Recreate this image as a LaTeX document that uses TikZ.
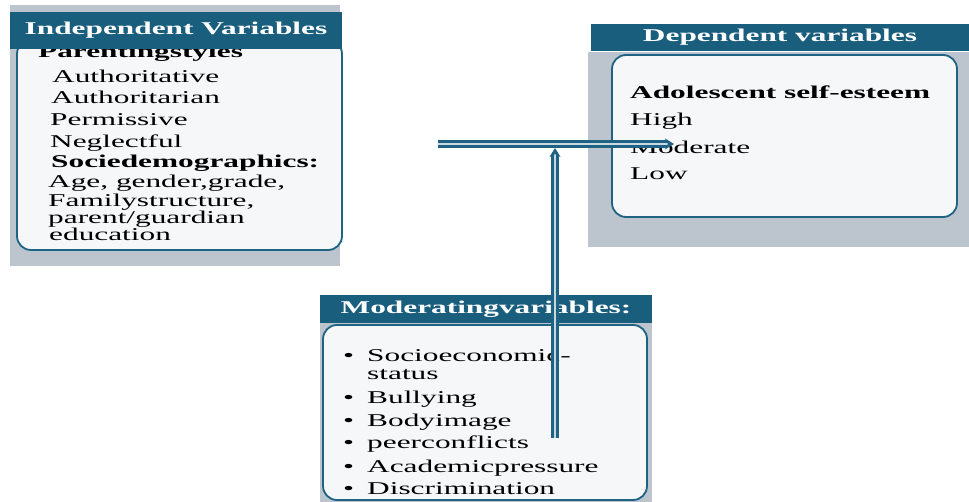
\documentclass[tikz,border=0pt]{standalone}
\usepackage{fontspec}
\setmainfont{Liberation Serif}[FakeStretch=1.74]
\usepackage{xcolor}
\usepackage{tikz}
\usetikzlibrary{arrows.meta}

\definecolor{hdrblue}{HTML}{1A5E7E}
\definecolor{lineblue}{HTML}{1E6384}
\definecolor{panelgrey}{HTML}{BCC4CD}
\definecolor{boxfill}{HTML}{F6F7F9}

\begin{document}
\begin{tikzpicture}[x=1pt, y=-1pt,
    panel/.style={fill=panelgrey},
    varbox/.style={draw=lineblue, line width=1.8pt, fill=boxfill, rounded corners=14pt},
    hdr/.style={fill=hdrblue, text=white, inner sep=0pt, font=\fontsize{18}{22}\selectfont\bfseries},
    item/.style={anchor=base west, inner sep=0pt, font=\fontsize{18}{22}\selectfont},
    link/.style={draw=lineblue, line width=2.8pt, double=white!75!lineblue, double distance=1.8pt,
        -{Stealth[length=9pt, width=11pt]}}]
    \useasboundingbox (0,0) rectangle (969,502);

    % Independent variables
    \fill[panel] (10,5) rectangle (340,266);
    \draw[varbox] (17,40) rectangle (342,250);
    \node[item, font=\fontsize{18}{22}\selectfont\bfseries] (parenting) at (38,58) {Parentingstyles};
    \node[hdr, minimum width=332pt, minimum height=37pt] (indhead) at (176,30.5) {Independent Variables};
    \node[item] (authoritative) at (52,83) {Authoritative};
    \node[item] (authoritarian) at (51,104) {Authoritarian};
    \node[item] (permissive) at (50,126) {Permissive};
    \node[item] (neglectful) at (50,148) {Neglectful};
    \node[item, font=\fontsize{18}{22}\selectfont\bfseries] (sociodemo) at (51,168) {Sociedemographics:};
    \node[item] (age) at (48,188) {Age, gender,grade,};
    \node[item] (family) at (48,207) {Familystructure,};
    \node[item] (parent) at (48,224) {parent/guardian};
    \node[item] (education) at (49,241) {education};

    % Dependent variables
    \fill[panel] (588,52) rectangle (969,247);
    \node[hdr, minimum width=378pt, minimum height=27pt] (dephead) at (780,37.5) {Dependent variables};
    \draw[varbox] (612,55) rectangle (957,217);
    \node[item, font=\fontsize{18}{22}\selectfont\bfseries] (esteem) at (630,99) {Adolescent self-esteem};
    \node[item] (high) at (630,126) {High};
    \node[item] (moderate) at (630,154) {Moderate};
    \node[item] (low) at (630,180) {Low};

    % Moderating variables
    \fill[panel] (320,323) rectangle (652,502);
    \node[hdr, minimum width=332pt, minimum height=28pt] (modhead) at (486,309) {Moderatingvariables:};
    \draw[varbox] (323,325) rectangle (647,500);
    \node[item] (b1) at (343,362) {\textbullet};
    \node[item] (ses) at (367,362) {Socioeconomic-};
    \node[item] (status) at (367,380) {status};
    \node[item] (b2) at (343,403) {\textbullet};
    \node[item] (bullying) at (367,403) {Bullying};
    \node[item] (b3) at (343,426) {\textbullet};
    \node[item] (body) at (367,426) {Bodyimage};
    \node[item] (b4) at (343,448) {\textbullet};
    \node[item] (peer) at (367,448) {peerconflicts};
    \node[item] (b5) at (343,472) {\textbullet};
    \node[item] (academic) at (367,472) {Academicpressure};
    \node[item] (b6) at (343,494) {\textbullet};
    \node[item] (discrim) at (367,494) {Discrimination};

    % Arrows
    \coordinate (modfoot) at (555,438);
    \coordinate (joint) at (555,148);
    \coordinate (indend) at (438,144);
    \coordinate (depend) at (674,144);
    \draw[link] (modfoot) -- (joint);
    \draw[link] (indend) -- (depend);
\end{tikzpicture}
\end{document}
